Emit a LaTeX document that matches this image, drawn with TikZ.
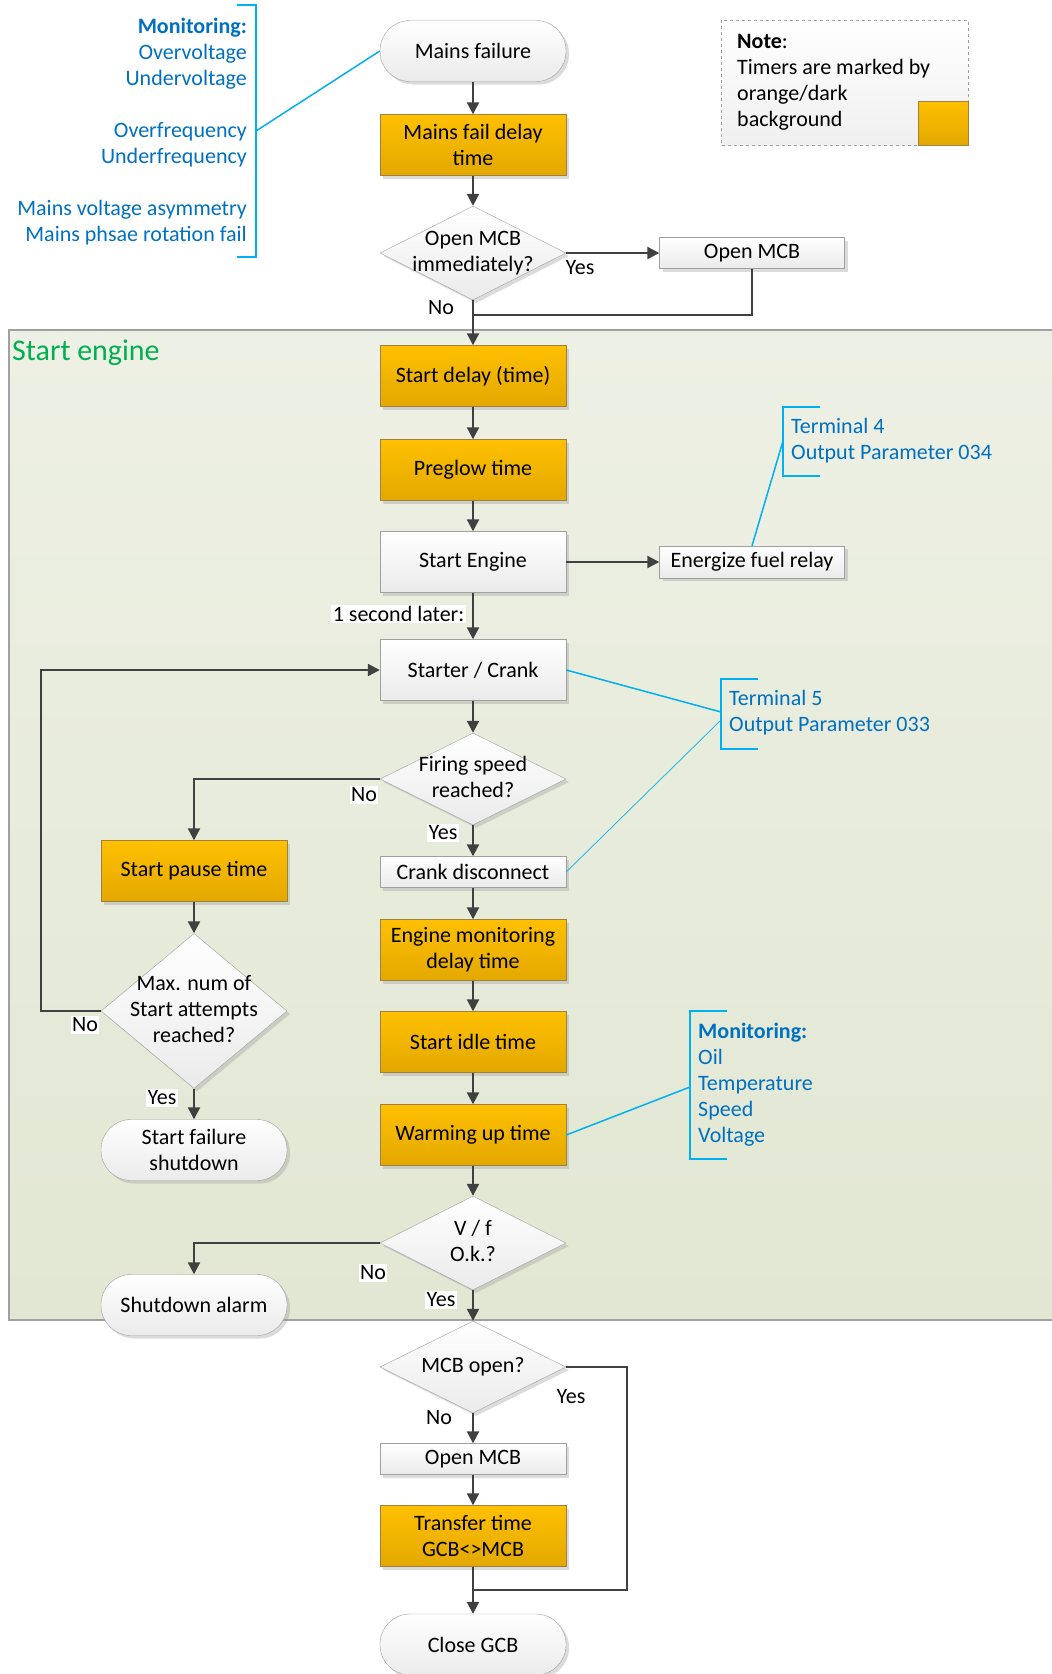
\documentclass[tikz,border=0pt]{standalone}
\usepackage{fontspec}
\setmainfont{Carlito}
\usetikzlibrary{arrows.meta,shapes.geometric,shadows,calc}
\definecolor{orT}{HTML}{FFC000}
\definecolor{orB}{HTML}{E3A800}
\definecolor{orD}{HTML}{A08040}
\definecolor{gyD}{HTML}{A0A0A0}
\definecolor{arr}{HTML}{404040}
\definecolor{blu}{HTML}{0070C0}
\definecolor{lbl}{HTML}{00B0F0}
\definecolor{grn}{HTML}{00B050}
\definecolor{regT}{HTML}{EDF0E4}
\definecolor{regB}{HTML}{E2E7D3}
\newcommand{\dtxt}[1]{\makebox[0pt]{\begin{tabular}{@{}c@{}}#1\end{tabular}}}
\begin{document}
\begin{tikzpicture}[x=1pt,y=-1pt,
 every node/.style={font=\fontsize{22}{26}\selectfont},
 shad/.style={drop shadow={shadow xshift=3pt,shadow yshift=-3pt,opacity=.35,fill=black!40}},
 timer/.style={rectangle,draw=orD,top color=orT,bottom color=orB,minimum width=186pt,minimum height=61pt,align=center,inner sep=2pt,shad},
 proc/.style={rectangle,draw=gyD,top color=white,bottom color=black!8,minimum width=186pt,minimum height=61pt,align=center,inner sep=2pt,shad},
 thinproc/.style={proc,minimum height=31pt},
 term/.style={proc,rounded corners=30pt},
 dec/.style={diamond,draw=gyD,top color=white,bottom color=black!8,minimum width=186pt,minimum height=94pt,inner sep=0pt,aspect=1,shad},
 conn/.style={draw=arr,line width=2.2pt,-{Triangle[length=12pt,width=12pt]}},
 plain/.style={draw=arr,line width=2.2pt},
 yn/.style={fill=white,inner sep=1.5pt},
 brk/.style={draw=lbl,line width=2pt},
 lnk/.style={draw=lbl,line width=1.5pt},
 ann/.style={text=blu,align=left,inner sep=0pt},
]
\useasboundingbox (0,0) rectangle (1052,1674);
% region
\path[draw=gyD,line width=1.5pt,top color=regT,bottom color=regB] (9,330) rectangle (1070,1320);
\node[anchor=west,text=grn,font=\fontsize{30}{36}\selectfont,inner sep=0pt] (title) at (12,353) {Start engine};

% note box
\path[draw=gyD,dashed,line width=1pt,top color=white,bottom color=black!6] (721,20) rectangle (968,145);
\node[rectangle,draw=orD,top color=orT,bottom color=orB,minimum width=50pt,minimum height=44pt,inner sep=0pt] (notesq) at (943,123) {};
\node[anchor=west,align=left,inner sep=0pt] (notetxt) at (737,82) {\textbf{Note}:\\Timers are marked by\\orange/dark\\background};

% main column
\node[term] (mf) at (473,51) {Mains failure};
\node[timer] (mfd) at (473,145) {Mains fail delay\\time};
\node[dec] (d1) at (473,253) {\dtxt{Open MCB\\immediately?}};
\node[thinproc,minimum width=185pt] (om1) at (752,253) {Open MCB};
\node[timer] (sd) at (473,376) {Start delay (time)};
\node[timer] (pg) at (473,470) {Preglow time};
\node[proc] (se) at (473,562) {Start Engine};
\node[thinproc,minimum width=185pt,minimum height=32pt] (efr) at (752,562) {Energize fuel relay};
\node[proc] (sc) at (473,670) {Starter / Crank};
\node[dec,minimum height=92pt] (d2) at (473,779) {\dtxt{Firing speed\\reached?}};
\node[thinproc] (cd) at (473,872) {Crank disconnect};
\node[timer] (emd) at (473,950) {Engine monitoring\\delay time};
\node[timer] (sit) at (473,1042) {Start idle time};
\node[timer] (wut) at (473,1135) {Warming up time};
\node[dec] (d4) at (473,1243) {\dtxt{V / f\\O.k.?}};
\node[dec,minimum height=92pt] (d5) at (473,1367) {\dtxt{MCB open?}};
\node[thinproc] (om2) at (473,1459) {Open MCB};
\node[timer] (tt) at (473,1536) {Transfer time\\GCB<>MCB};
\node[term] (cg) at (473,1644.5) {Close GCB};

% left column
\node[timer] (sp) at (194,871) {Start pause time};
\node[dec,minimum height=155pt] (d3) at (194,1011) {\dtxt{Max. num of\\Start attempts\\reached?}};
\node[term] (sfs) at (194,1150) {Start failure\\shutdown};
\node[term] (sa) at (194,1305) {Shutdown alarm};

% connectors
\coordinate (j1) at (473,315);
\coordinate (j2) at (473,1590);
\draw[conn] (mf) -- (mfd);
\draw[conn] (mfd) -- (d1);
\draw[conn] (d1.east) -- (om1.west);
\draw[conn] (d1.south) -- (sd.north);
\draw[plain] (om1.south) |- (j1);
\draw[conn] (sd) -- (pg);
\draw[conn] (pg) -- (se);
\draw[conn] (se.east) -- (efr.west);
\draw[conn] (se) -- (sc);
\draw[conn] (sc) -- (d2);
\draw[conn] (d2.south) -- (cd.north);
\draw[conn] (d2.west) -| (sp.north);
\draw[conn] (sp) -- (d3);
\draw[conn] (d3.south) -- (sfs.north);
\draw[conn] (d3.west) -- ++(-60,0) |- (sc.west);
\draw[conn] (cd) -- (emd);
\draw[conn] (emd) -- (sit);
\draw[conn] (sit) -- (wut);
\draw[conn] (wut) -- (d4);
\draw[conn] (d4.west) -| (sa.north);
\draw[conn] (d4.south) -- (d5.north);
\draw[conn] (d5.south) -- (om2.north);
\draw[conn] (om2) -- (tt);
\draw[conn] (tt.south) -- (cg.north);
\draw[plain] (d5.east) -- ++(61,0) |- (j2);

% yes/no labels
\node[yn] (l1) at (580,268) {Yes};
\node[yn] (l2) at (441,308) {No};
\node[yn,anchor=east] (l3) at (466,614) {1 second later:};
\node[yn] (l4) at (364,795) {No};
\node[yn] (l5) at (443,833) {Yes};
\node[yn] (l6) at (85,1025) {No};
\node[yn] (l7) at (162,1098) {Yes};
\node[yn] (l8) at (373,1273) {No};
\node[yn] (l9) at (441,1300) {Yes};
\node[yn] (l10) at (571,1397) {Yes};
\node[yn] (l11) at (439,1417) {No};

% annotations
\node[ann,align=right,anchor=east] (monA) at (247,131.5) {\textbf{Monitoring:}\\Overvoltage\\Undervoltage\\[26pt]Overfrequency\\Underfrequency\\[26pt]Mains voltage asymmetry\\Mains phsae rotation fail};
\draw[brk] (237,5) -- (256,5) -- (256,257) -- (237,257);
\coordinate (bA) at (256,131);
\draw[lnk] (bA) -- (mf.west);

\node[ann,anchor=west] (t4) at (791,441) {Terminal 4\\Output Parameter 034};
\draw[brk] (820,407) -- (783,407) -- (783,476) -- (820,476);
\coordinate (b4) at (783,441);
\draw[lnk] (efr.north) -- (b4);

\node[ann,anchor=west] (t5) at (729,713) {Terminal 5\\Output Parameter 033};
\draw[brk] (758,679) -- (721,679) -- (721,749) -- (758,749);
\coordinate (b5a) at (721,712);
\coordinate (b5b) at (721,720);
\draw[lnk] (sc.east) -- (b5a);
\draw[draw=lbl,line width=0.7pt] (cd.east) -- (b5b);

\node[ann,anchor=west] (monB) at (698,1085) {\textbf{Monitoring:}\\Oil\\Temperature\\Speed\\Voltage};
\draw[brk] (727,1011) -- (690,1011) -- (690,1159) -- (727,1159);
\coordinate (bB) at (690,1087);
\draw[lnk] (wut.east) -- (bB);
\end{tikzpicture}
\end{document}
